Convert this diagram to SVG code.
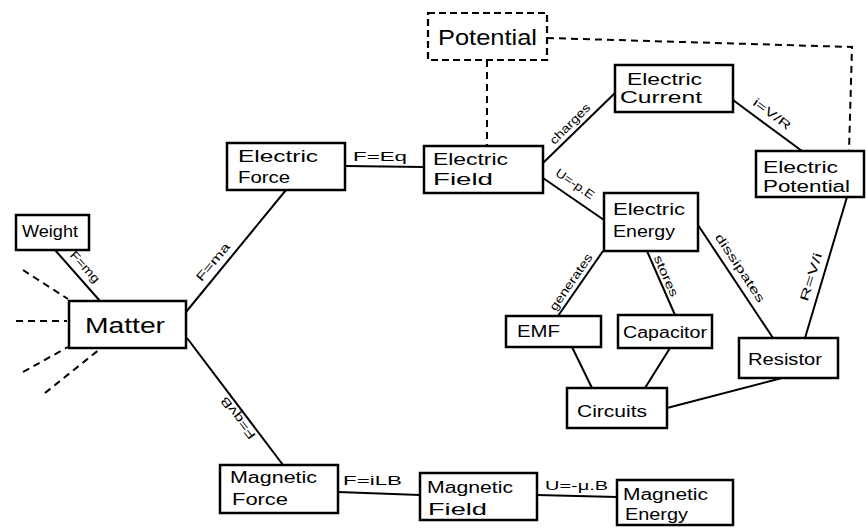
<svg xmlns="http://www.w3.org/2000/svg" width="866" height="531" viewBox="0 0 866 531">
<style>
.box{fill:#fff;stroke:#000;stroke-width:2.5}
.dbox{fill:#fff;stroke:#000;stroke-width:2.2;stroke-dasharray:7 4}
.ln{fill:none;stroke:#000;stroke-width:2}
.dl{fill:none;stroke:#000;stroke-width:2;stroke-dasharray:7 5}
.t{font-family:"Liberation Sans",Arial,sans-serif;font-size:16px;fill:#000}
.big{font-size:22px}
.lb{font-family:"Liberation Sans",Arial,sans-serif;font-size:12px;fill:#000;text-anchor:middle}
.lh{font-family:"Liberation Sans",Arial,sans-serif;font-size:12px;fill:#000}
</style>
<rect width="866" height="531" fill="#fff"/>
<g id="connectors">
<line class="ln" x1="55" y1="250" x2="100" y2="301"/>
<line class="dl" x1="23" y1="270" x2="68" y2="299"/>
<line class="dl" x1="16" y1="321" x2="67" y2="321"/>
<line class="dl" x1="23" y1="372" x2="68" y2="347"/>
<line class="dl" x1="45" y1="393" x2="100" y2="349"/>
<line class="ln" x1="186" y1="312" x2="286" y2="190"/>
<line class="ln" x1="187" y1="338" x2="283" y2="465"/>
<line class="ln" x1="345" y1="166" x2="424" y2="167"/>
<line class="dl" x1="487" y1="60" x2="487" y2="146"/>
<polyline class="dl" points="547,38 852,47 849,151"/>
<line class="ln" x1="543" y1="163" x2="615" y2="93"/>
<line class="ln" x1="733" y1="100" x2="802" y2="151"/>
<line class="ln" x1="543" y1="178" x2="604" y2="220"/>
<line class="ln" x1="603" y1="251" x2="558" y2="316"/>
<line class="ln" x1="647" y1="251" x2="675" y2="315"/>
<line class="ln" x1="698" y1="225" x2="773" y2="338"/>
<line class="ln" x1="847" y1="197" x2="805" y2="338"/>
<line class="ln" x1="572" y1="347" x2="592" y2="388"/>
<line class="ln" x1="670" y1="348" x2="645" y2="388"/>
<line class="ln" x1="667" y1="408" x2="782" y2="378"/>
<line class="ln" x1="338" y1="492" x2="420" y2="495"/>
<line class="ln" x1="537" y1="495" x2="617" y2="497"/>
<text class="lb" transform="translate(85,267) rotate(47.9)" y="4" textLength="38" lengthAdjust="spacingAndGlyphs">F=mg</text>
<text class="lb" transform="translate(213,262) rotate(-50.4)" y="4" textLength="46" lengthAdjust="spacingAndGlyphs">F=ma</text>
<text class="lb" transform="translate(238,418) rotate(-127.1)" y="4" textLength="50" lengthAdjust="spacingAndGlyphs">F=qvB</text>
<text class="lh" x="353" y="161" textLength="54" lengthAdjust="spacingAndGlyphs">F=Eq</text>
<text class="lb" transform="translate(570,124) rotate(-45)" y="4" textLength="52" lengthAdjust="spacingAndGlyphs">charges</text>
<text class="lb" transform="translate(772,114) rotate(36.5)" y="4" textLength="44" lengthAdjust="spacingAndGlyphs">i=V/R</text>
<text class="lb" transform="translate(575,184) rotate(34.5)" y="4" textLength="44" lengthAdjust="spacingAndGlyphs">U=-p.E</text>
<text class="lb" transform="translate(571,282) rotate(-55.3)" y="4" textLength="66" lengthAdjust="spacingAndGlyphs">generates</text>
<text class="lb" transform="translate(666,276) rotate(66)" y="4" textLength="44" lengthAdjust="spacingAndGlyphs">stores</text>
<text class="lb" transform="translate(740,268) rotate(56.4)" y="4" textLength="80" lengthAdjust="spacingAndGlyphs">dissipates</text>
<text class="lb" transform="translate(811,277) rotate(-73)" y="4" textLength="50" lengthAdjust="spacingAndGlyphs">R=V/i</text>
<text class="lh" x="343" y="485" textLength="59" lengthAdjust="spacingAndGlyphs">F=iLB</text>
<text class="lh" x="545" y="490" textLength="63" lengthAdjust="spacingAndGlyphs">U=-μ.B</text>
</g>
<g id="weight"><rect class="box" x="16" y="215" width="73" height="35"/><text class="t" x="22" y="237" textLength="56" lengthAdjust="spacingAndGlyphs">Weight</text></g>
<g id="matter"><rect class="box" x="69" y="301" width="117" height="47"/><text class="t big" x="85" y="333" textLength="80" lengthAdjust="spacingAndGlyphs">Matter</text></g>
<g id="electric-force"><rect class="box" x="227" y="143" width="118" height="47"/><text class="t" x="238" y="162" textLength="80" lengthAdjust="spacingAndGlyphs">Electric</text><text class="t" x="238" y="183" textLength="52" lengthAdjust="spacingAndGlyphs">Force</text></g>
<g id="electric-field"><rect class="box" x="424" y="146" width="119" height="47"/><text class="t" x="433" y="165" textLength="75" lengthAdjust="spacingAndGlyphs">Electric</text><text class="t" x="433" y="185" textLength="60" lengthAdjust="spacingAndGlyphs">Field</text></g>
<g id="potential"><rect class="dbox" x="428" y="13" width="119" height="47"/><text class="t big" x="438" y="45" textLength="99" lengthAdjust="spacingAndGlyphs">Potential</text></g>
<g id="electric-current"><rect class="box" x="615" y="65" width="118" height="47"/><text class="t" x="627" y="85" textLength="75" lengthAdjust="spacingAndGlyphs">Electric</text><text class="t" x="620" y="103" textLength="82" lengthAdjust="spacingAndGlyphs">Current</text></g>
<g id="electric-potential"><rect class="box" x="756" y="151" width="108" height="46"/><text class="t" x="763" y="173" textLength="75" lengthAdjust="spacingAndGlyphs">Electric</text><text class="t" x="763" y="192" textLength="87" lengthAdjust="spacingAndGlyphs">Potential</text></g>
<g id="electric-energy"><rect class="box" x="604" y="193" width="94" height="58"/><text class="t" x="613" y="215" textLength="72" lengthAdjust="spacingAndGlyphs">Electric</text><text class="t" x="613" y="237" textLength="62" lengthAdjust="spacingAndGlyphs">Energy</text></g>
<g id="emf"><rect class="box" x="506" y="316" width="95" height="31"/><text class="t" x="517" y="337" textLength="43" lengthAdjust="spacingAndGlyphs">EMF</text></g>
<g id="capacitor"><rect class="box" x="618" y="315" width="94" height="33"/><text class="t" x="623" y="338" textLength="84" lengthAdjust="spacingAndGlyphs">Capacitor</text></g>
<g id="resistor"><rect class="box" x="739" y="338" width="99" height="40"/><text class="t" x="748" y="365" textLength="74" lengthAdjust="spacingAndGlyphs">Resistor</text></g>
<g id="circuits"><rect class="box" x="567" y="388" width="100" height="40"/><text class="t" x="577" y="417" textLength="70" lengthAdjust="spacingAndGlyphs">Circuits</text></g>
<g id="magnetic-force"><rect class="box" x="220" y="465" width="118" height="48"/><text class="t" x="230" y="483" textLength="87" lengthAdjust="spacingAndGlyphs">Magnetic</text><text class="t" x="232" y="505" textLength="56" lengthAdjust="spacingAndGlyphs">Force</text></g>
<g id="magnetic-field"><rect class="box" x="420" y="473" width="117" height="47"/><text class="t" x="427" y="493" textLength="86" lengthAdjust="spacingAndGlyphs">Magnetic</text><text class="t" x="428" y="515" textLength="59" lengthAdjust="spacingAndGlyphs">Field</text></g>
<g id="magnetic-energy"><rect class="box" x="617" y="480" width="116" height="45"/><text class="t" x="623" y="500" textLength="85" lengthAdjust="spacingAndGlyphs">Magnetic</text><text class="t" x="625" y="520" textLength="63" lengthAdjust="spacingAndGlyphs">Energy</text></g>
</svg>
